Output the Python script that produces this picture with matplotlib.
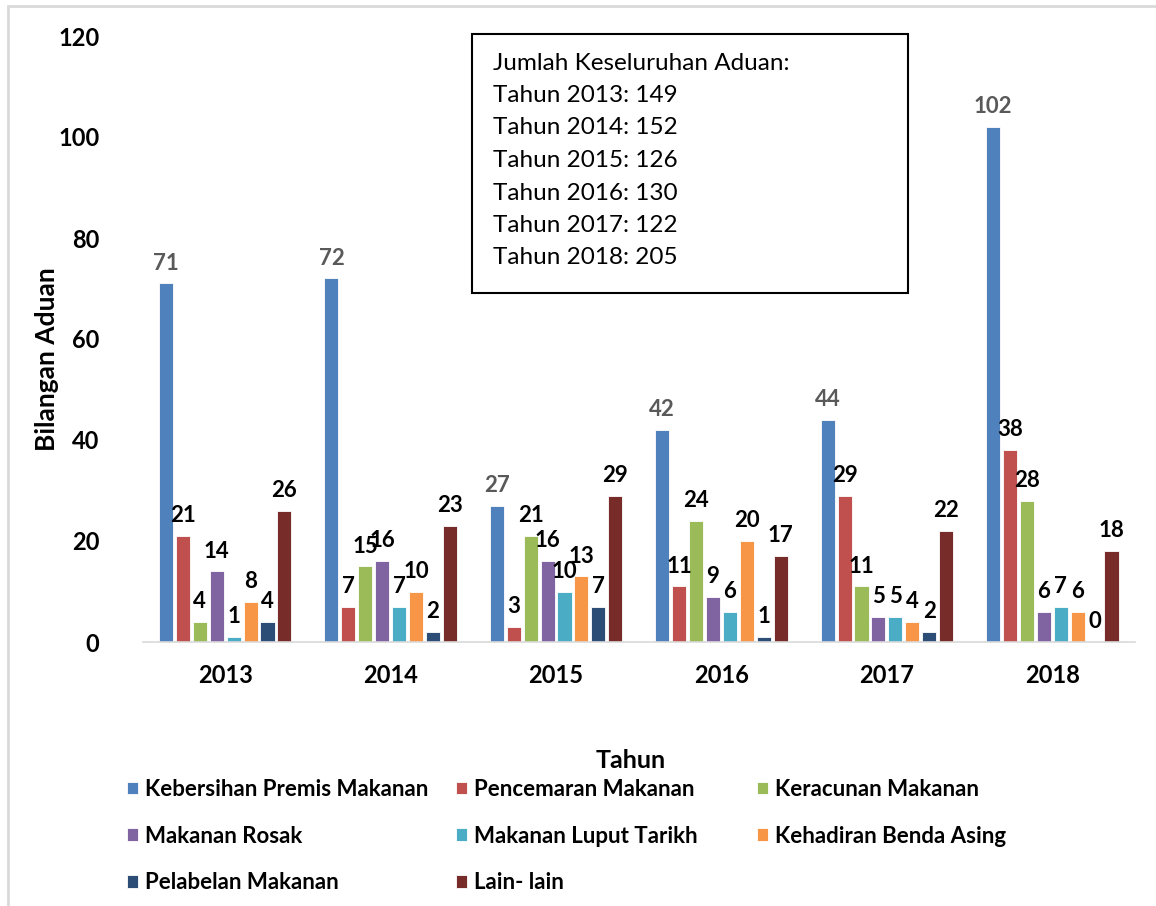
import numpy as np
import matplotlib.pyplot as plt
from matplotlib.patches import Rectangle

plt.rcParams['font.family'] = ['Lato', 'DejaVu Sans']

# ---------------------------------------------------------------------------
# Data
# ---------------------------------------------------------------------------
years = ['2013', '2014', '2015', '2016', '2017', '2018']
series = ['Kebersihan Premis Makanan', 'Pencemaran Makanan', 'Keracunan Makanan',
          'Makanan Rosak', 'Makanan Luput Tarikh', 'Kehadiran Benda Asing',
          'Pelabelan Makanan', 'Lain- lain']
kebersihan = [71, 72, 27, 42, 44, 102]
pencemaran = [21, 7, 3, 11, 29, 38]
keracunan = [4, 15, 21, 24, 11, 28]
rosak = [14, 16, 16, 9, 5, 6]
luput = [1, 7, 10, 6, 5, 7]
benda_asing = [8, 10, 13, 20, 4, 6]
pelabelan = [4, 2, 7, 1, 2, 0]
lain = [26, 23, 29, 17, 22, 18]
totals = [149, 152, 126, 130, 122, 205]

values = [kebersihan, pencemaran, keracunan, rosak, luput, benda_asing, pelabelan, lain]
colors = ['#4F81BD', '#C0504D', '#9BBB59', '#8064A2',
          '#4BACC6', '#F79646', '#2C4D75', '#772C2A']

# ---------------------------------------------------------------------------
# Figure
# ---------------------------------------------------------------------------
W, H = 1156, 906
fig = plt.figure(figsize=(W / 100, H / 100), dpi=100)
ax = fig.add_axes([142.5 / W, 1 - 642 / H, (1135 - 142.5) / W, (642 - 36) / H])

x = np.arange(len(years))
slot = 0.1023
bar_w = 0.085
handles = []
for i, (vals, col) in enumerate(zip(values, colors)):
    pos = x + (i - 3.5) * slot
    b = ax.bar(pos, vals, bar_w, color=col, edgecolor='white', linewidth=0.6,
               label=series[i])
    handles.append(b)
    lab_col = '#595959' if i == 0 else 'black'
    for px, v in zip(pos, vals):
        ax.annotate(str(v), (px, v), xytext=(0, 7), textcoords='offset points',
                    ha='center', va='bottom', fontsize=16, fontweight='bold',
                    color=lab_col)

ax.set_ylim(0, 120)
ax.set_xlim(-0.5, len(years) - 0.5)
ax.set_yticks(range(0, 121, 20))
ax.set_xticks(x)
ax.set_xticklabels(years)
for s in ['top', 'right', 'left']:
    ax.spines[s].set_visible(False)
ax.spines['bottom'].set_color('#d9d9d9')
ax.spines['bottom'].set_linewidth(1.2)
ax.tick_params(axis='both', length=0, labelsize=17)
ax.tick_params(axis='y', pad=31)
ax.tick_params(axis='x', pad=16)
for t in ax.get_xticklabels() + ax.get_yticklabels():
    t.set_fontweight('bold')

fig.text(47 / W, 1 - 359 / H, 'Bilangan Aduan', rotation=90, ha='center', va='center',
         fontsize=19, fontweight='bold')
fig.text(631 / W, 1 - 760 / H, 'Tahun', ha='center', va='center',
         fontsize=18, fontweight='bold')

# outer chart border
fig.patches.append(Rectangle((8 / W, -0.1), 1.2, 1 - 6 / H + 0.1, transform=fig.transFigure,
                             fill=False, edgecolor='#d9d9d9', linewidth=2))

# totals box
fig.patches.append(Rectangle((472 / W, 1 - 293 / H), 436 / W, 259 / H,
                             transform=fig.transFigure, fill=False,
                             edgecolor='black', linewidth=1.5))
box_lines = ['Jumlah Keseluruhan Aduan:'] + \
    ['Tahun %s: %d' % (y, t) for y, t in zip(years, totals)]
for k, line in enumerate(box_lines):
    fig.text(493 / W, 1 - (63 + k * 32.5) / H, line, ha='left', va='center', fontsize=17.5)

# legend, three columns placed separately (row-major like Excel)
col_x = [127, 456, 757]
for c in range(3):
    idx = list(range(c, len(series), 3))
    leg = fig.legend([handles[j] for j in idx], [series[j] for j in idx],
                     loc='upper left', bbox_to_anchor=(col_x[c] / W, 1 - 779 / H),
                     frameon=False, handlelength=0.5, handleheight=0.5,
                     handletextpad=0.3, labelspacing=1.15, borderaxespad=0,
                     borderpad=0, prop={'size': 16, 'weight': 'bold'})

fig.savefig('out.png', dpi=100)
